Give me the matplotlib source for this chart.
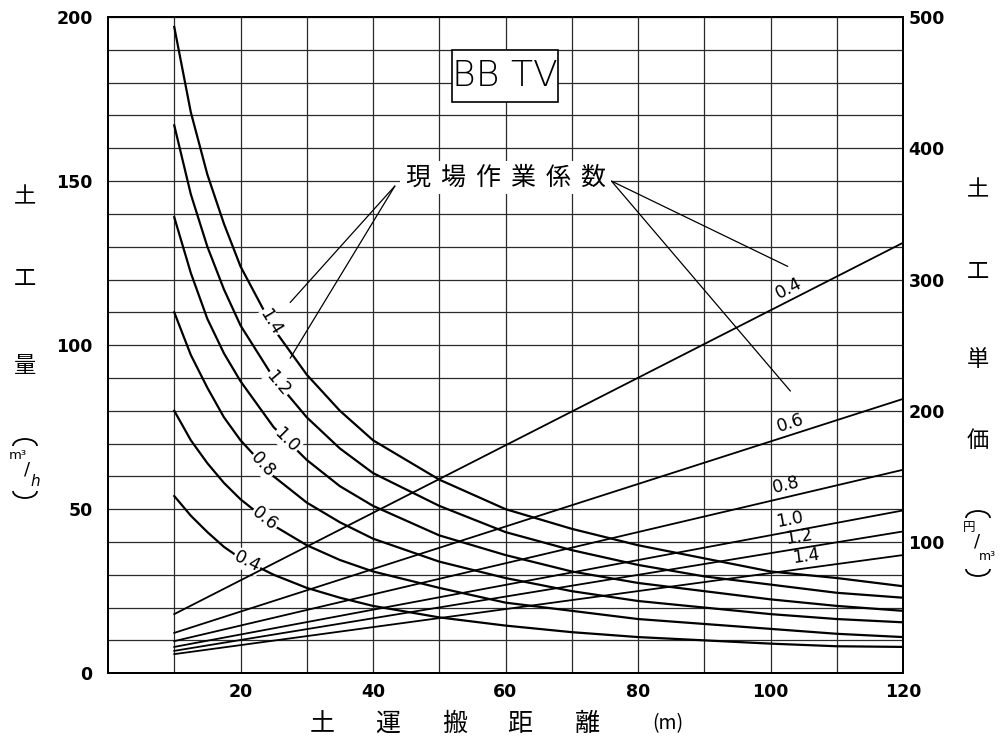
import numpy as np
import matplotlib
matplotlib.use("Agg")
import matplotlib.pyplot as plt
from matplotlib.patches import Rectangle, Arc

# 土運搬距離 (m)
dist = [10, 12.5, 15, 17.5, 20, 25, 30, 35, 40, 50, 60, 70, 80, 90, 100, 110, 120]

# 土工量 (m3/h)  現場作業係数ごと
q_labels = ["1.4", "1.2", "1.0", "0.8", "0.6", "0.4"]
q_14 = [197, 171, 152, 137, 124, 105, 91, 80, 71, 59, 50, 44, 39, 35, 31, 29, 26.5]
q_12 = [167, 146, 130, 117, 106, 90, 78, 68.5, 61, 51, 43, 37.5, 33, 29.5, 27, 24.5, 23]
q_10 = [139, 122, 108, 97.5, 89, 75, 65, 57, 51, 42, 36, 31, 27.5, 25, 22.5, 20.5, 19]
q_08 = [110, 97, 87, 78, 71, 60, 52, 46, 41, 34, 29, 25, 22, 20, 18, 16.5, 15.5]
q_06 = [80, 71, 64, 58, 53, 45, 39, 34.5, 31, 26, 21.5, 19, 16.5, 15, 13.5, 12, 11]
q_04 = [54, 48, 43, 38.5, 35, 30, 26, 23, 20.5, 17, 14.5, 12.5, 11, 10, 9, 8.2, 8]

# 土工単価 (円/m3)  直線なので両端の値
cost_dist = [10, 120]
cost_labels = ["0.4", "0.6", "0.8", "1.0", "1.2", "1.4"]
c_04 = [45, 328]
c_06 = [30.7, 209]
c_08 = [24.4, 155]
c_10 = [20, 124]
c_12 = [17, 108]
c_14 = [14.5, 90]

NUM_FONT = "DejaVu Sans"
JP_FONT = ["Noto Sans CJK JP", "DejaVu Sans"]

fig = plt.figure(figsize=(10, 7.43), dpi=100)
ax = fig.add_axes([0.108, 0.094, 0.795, 0.883])
ax2 = ax.twinx()

ax.set_xlim(0, 120)
ax.set_ylim(0, 200)
ax2.set_ylim(0, 500)

# 方眼
ax.set_xticks(np.arange(20, 121, 20))
ax.set_xticks(np.arange(10, 120, 10), minor=True)
ax.set_yticks(np.arange(0, 201, 50))
ax.set_yticks(np.arange(0, 201, 10), minor=True)
ax.grid(which="both", color="#2a2a2a", lw=0.9)
ax.set_axisbelow(True)
ax2.set_yticks(np.arange(100, 501, 100))

for a in (ax, ax2):
    for s in a.spines.values():
        s.set_linewidth(1.4)
        s.set_color("black")
ax.tick_params(which="both", length=0)
ax.tick_params(axis="y", pad=11)
ax.tick_params(axis="x", pad=7)
ax2.tick_params(which="both", length=0, pad=4)
for lab in ax.get_xticklabels() + ax.get_yticklabels() + ax2.get_yticklabels():
    lab.set_fontfamily(NUM_FONT)
    lab.set_fontweight("bold")
    lab.set_fontsize(12.5)

# 土工量の曲線
q_series = [q_14, q_12, q_10, q_08, q_06, q_04]
q_label_x = [24.5, 25.7, 27.0, 23.4, 23.7, 21.0]
for vals in q_series:
    ax.plot(dist, vals, color="black", lw=1.6, zorder=3)

# 土工単価の直線
c_series = [c_04, c_06, c_08, c_10, c_12, c_14]
c_label_x = [103.4, 103.4, 102.6, 103.2, 104.5, 105.5]
for vals in c_series:
    ax2.plot(cost_dist, vals, color="black", lw=1.3, zorder=3)


def slope_angle(axis, xs, ys, x0):
    y0 = np.interp(x0, xs, ys)
    y1 = np.interp(x0 + 1.0, xs, ys)
    p0 = axis.transData.transform((x0, y0))
    p1 = axis.transData.transform((x0 + 1.0, y1))
    return np.degrees(np.arctan2(p1[1] - p0[1], p1[0] - p0[0])), y0


for name, vals, lx in zip(q_labels, q_series, q_label_x):
    ang, ly = slope_angle(ax, dist, vals, lx)
    ax.text(lx, ly, name, rotation=ang, rotation_mode="anchor",
            ha="center", va="center", fontsize=12.5, family=NUM_FONT,
            bbox=dict(facecolor="white", edgecolor="none", pad=0.6),
            zorder=5)

for name, vals, lx in zip(cost_labels, c_series, c_label_x):
    ang, ly = slope_angle(ax2, cost_dist, vals, lx)
    ax2.annotate(name, xy=(lx, ly), xytext=(0, 2), textcoords="offset points",
                 rotation=ang, rotation_mode="anchor", ha="center",
                 va="bottom", fontsize=12.5, family=NUM_FONT, zorder=5)

# 機種名
ax.add_patch(Rectangle((51.9, 174), 16.0, 16, facecolor="white",
                       edgecolor="black", lw=1.2, zorder=4))
ax.text(59.9, 182, "BB TV", ha="center", va="center", fontsize=26,
        family=NUM_FONT, fontweight="light", zorder=5)

# 現場作業係数の引出し
ax.add_patch(Rectangle((44.0, 146), 32.0, 10, facecolor="white",
                       edgecolor="none", zorder=4))
for i, ch in enumerate("現場作業係数"):
    ax.text(46.7 + i * 5.3, 151, ch, ha="center", va="center", fontsize=18,
            family=JP_FONT, zorder=5)
leaders = [
    ((43.3, 148.5), (27.5, 113)),
    ((43.3, 148.5), (27.5, 96)),
    ((76.0, 150), (102.6, 124)),
    ((76.0, 150), (103.0, 86)),
]
for start, end in leaders:
    ax.annotate("", xy=end, xytext=start,
                arrowprops=dict(arrowstyle="-", lw=0.9, color="black",
                                shrinkA=0, shrinkB=0), zorder=4)


def ftext(px, py, s, **kw):
    fig.text(px / 1000, 1 - py / 743, s, ha="center", va="center", **kw)


def fparen(px, py, upper):
    # 縦書きの括弧を弧で描く
    th = (0, 180) if upper else (180, 360)
    fig.add_artist(Arc((px / 1000, 1 - py / 743), 24 / 1000, 14 / 743,
                       theta1=th[0], theta2=th[1], lw=1.3, color="black",
                       transform=fig.transFigure))


# 左軸ラベル 土工量 (m3/h)
for ch, py in zip("土工量", [197, 278, 365]):
    ftext(25, py, ch, fontsize=16, family=JP_FONT)
fparen(25, 446, True)
ftext(18, 455, "m³", fontsize=9.5, family=NUM_FONT)
ftext(27, 470, "/", fontsize=13, family=NUM_FONT)
ftext(35, 481, "h", fontsize=11, family=NUM_FONT, style="italic")
fparen(25, 491, False)

# 右軸ラベル 土工単価 (円/m3)
for ch, py in zip("土工単価", [190, 272, 360, 440]):
    ftext(978, py, ch, fontsize=16, family=JP_FONT)
fparen(978, 518, True)
ftext(969, 528, "円", fontsize=9, family=JP_FONT)
ftext(977, 542, "/", fontsize=13, family=NUM_FONT)
ftext(987, 556, "m³", fontsize=9, family=NUM_FONT)
fparen(978, 569, False)

# 横軸ラベル 土運搬距離 (m)
for ch, px in zip("土運搬距離", [322, 388, 455, 520, 587]):
    ftext(px, 724, ch, fontsize=18, family=JP_FONT)
ftext(668, 724, "(m)", fontsize=14, family=JP_FONT)

fig.savefig("out.png", dpi=100)
